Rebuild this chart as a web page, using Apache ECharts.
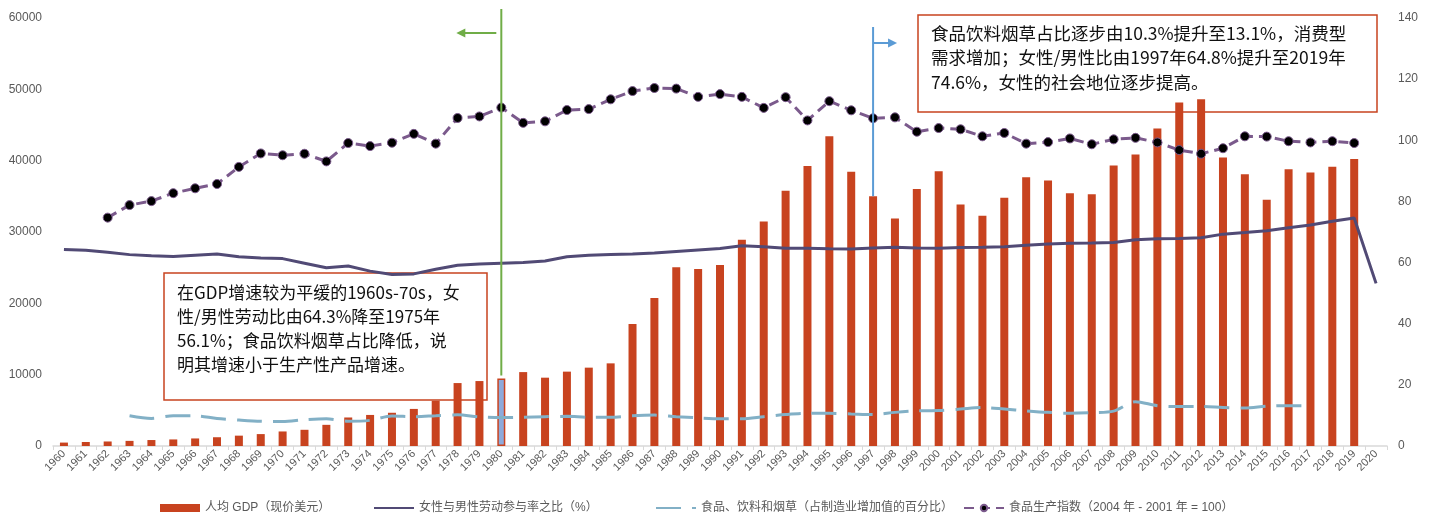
<!doctype html>
<html>
<head>
<meta charset="utf-8">
<title>Japan GDP</title>
<style>
  html, body { margin: 0; padding: 0; background: #fff; }
  #main { width: 1434px; height: 515px; }
</style>
</head>
<body>
<div id="main"></div>
<script src="https://cdn.jsdelivr.net/npm/echarts@6/dist/echarts.min.js"></script>
<script>
var years = ['1960','1961','1962','1963','1964','1965','1966','1967','1968','1969',
  '1970','1971','1972','1973','1974','1975','1976','1977','1978','1979',
  '1980','1981','1982','1983','1984','1985','1986','1987','1988','1989',
  '1990','1991','1992','1993','1994','1995','1996','1997','1998','1999',
  '2000','2001','2002','2003','2004','2005','2006','2007','2008','2009',
  '2010','2011','2012','2013','2014','2015','2016','2017','2018','2019','2020'];

// 人均 GDP（现价美元）
var gdp = [480,564,634,718,836,920,1059,1229,1451,1669,
  2038,2272,2967,3998,4354,4659,5198,6336,8822,9105,
  9463,10361,9578,10425,10985,11585,17112,20745,25052,24813,
  25372,28925,31464,35766,39269,43440,38437,35022,31903,36027,
  38532,33847,32289,34808,37689,37218,35434,35275,39339,40855,
  44508,48168,48604,40454,38109,34525,38794,38332,39159,40247,null];

// 女性与男性劳动参与率之比（%）
var laborRatio = [64.3,64.0,63.4,62.6,62.2,62.0,62.4,62.8,61.9,61.5,
  61.3,59.8,58.3,58.9,57.2,56.1,56.3,57.8,59.1,59.5,
  59.8,60.0,60.5,61.9,62.4,62.6,62.8,63.1,63.6,64.1,
  64.6,65.5,65.2,64.7,64.7,64.5,64.4,64.8,65.0,64.8,
  64.7,64.9,65.0,65.2,65.7,66.1,66.3,66.4,66.6,67.5,
  67.8,67.9,68.1,69.3,69.8,70.4,71.4,72.3,73.5,74.6,
  53.2];

// 食品、饮料和烟草（占制造业增加值的百分比）
var foodShare = [null,null,null,9.9,9.0,9.9,9.9,9.0,8.5,8.1,
  8.0,8.6,8.9,8.1,8.4,9.8,9.6,9.9,10.2,9.5,
  9.3,9.4,9.6,9.7,9.4,9.4,9.9,10.1,9.6,9.2,
  8.9,8.9,9.6,10.3,10.7,10.7,10.5,10.3,11.0,11.5,
  11.6,12.1,12.6,12.1,11.5,11.0,10.7,10.9,11.4,14.5,
  13.2,12.9,12.9,12.6,12.4,13.0,13.2,13.1,null,null,null];

// 食品生产指数（2004 年 - 2001 年 = 100）
var foodIndex = [null,null,74.7,78.8,80.1,82.7,84.3,85.7,91.3,95.7,
  95.1,95.6,93.1,99.1,98.1,99.2,102.1,98.9,107.3,107.8,
  110.7,105.7,106.2,109.9,110.2,113.4,116.1,117.1,116.9,114.2,
  115.1,114.2,110.6,114.1,106.5,112.8,109.8,107.2,107.5,102.8,
  104.0,103.6,101.3,102.4,98.9,99.4,100.6,98.7,100.3,100.8,
  99.3,96.8,95.6,97.4,101.3,101.2,99.7,99.3,99.7,99.1,null];

var highlightYear = '1980';
var markYear = '1997';

var names = ['人均 GDP（现价美元）', '女性与男性劳动参与率之比（%）',
  '食品、饮料和烟草（占制造业增加值的百分比）', '食品生产指数（2004 年 - 2001 年 = 100）'];

var noteLeft = ['在GDP增速较为平缓的1960s-70s，女',
  '性/男性劳动比由64.3%降至1975年',
  '56.1%；食品饮料烟草占比降低，说',
  '明其增速小于生产性产品增速。'];
var noteRight = ['食品饮料烟草占比逐步由10.3%提升至13.1%，消费型',
  '需求增加；女性/男性比由1997年64.8%提升至2019年',
  '74.6%，女性的社会地位逐步提高。'];

var RED = '#c8431f';
var FONT = '"Liberation Sans", "Noto Sans CJK SC", sans-serif';
var NOTE_FONT = '"Noto Sans CJK SC", sans-serif';

var chart = echarts.init(document.getElementById('main'));

var gdpData = gdp.map(function (v, i) {
  if (years[i] === highlightYear) {
    return { value: v, itemStyle: { color: '#8eaadb', borderColor: RED, borderWidth: 1.5 } };
  }
  return v;
});

var noSymbol = { color: 'rgba(0,0,0,0)', borderWidth: 0 };
var legendLefts = [155, 368, 650, 958];
var legendItems = [
  { name: names[0], icon: 'rect' },
  { name: names[1], itemStyle: noSymbol },
  { name: names[2], itemStyle: noSymbol },
  { name: names[3] }
];

chart.setOption({
  animation: false,
  textStyle: { fontFamily: FONT },
  grid: { left: 53, right: 47, top: 18, bottom: 69 },
  legend: legendItems.map(function (item, i) {
    return {
      left: legendLefts[i],
      top: 497,
      itemWidth: 40,
      itemHeight: 8,
      itemGap: 4,
      textStyle: { color: '#595959', fontSize: 12, fontFamily: FONT },
      data: [item]
    };
  }),
  xAxis: {
    type: 'category',
    data: years,
    boundaryGap: true,
    axisLine: { lineStyle: { color: '#d9d9d9', width: 1.5 } },
    axisTick: { show: true, length: 4, lineStyle: { color: '#d9d9d9' } },
    axisLabel: { interval: 0, rotate: 45, fontSize: 11, color: '#595959', margin: 6 }
  },
  yAxis: [{
    type: 'value', min: 0, max: 60000, interval: 10000,
    splitLine: { show: false },
    axisLine: { show: false },
    axisLabel: { color: '#595959', fontSize: 12, margin: 11,
      formatter: function (v) { return String(v); } }
  }, {
    type: 'value', min: 0, max: 140, interval: 20, position: 'right',
    splitLine: { show: false },
    axisLine: { show: false },
    axisLabel: { color: '#595959', fontSize: 12, margin: 11 }
  }],
  series: [{
    name: names[0],
    type: 'bar',
    barWidth: 8,
    itemStyle: { color: RED },
    data: gdpData
  }, {
    name: names[1],
    type: 'line',
    yAxisIndex: 1,
    symbol: 'none',
    lineStyle: { color: '#514a75', width: 3 },
    itemStyle: { color: '#514a75' },
    data: laborRatio
  }, {
    name: names[2],
    type: 'line',
    yAxisIndex: 1,
    smooth: 0.3,
    symbol: 'none',
    lineStyle: { color: '#82b0c6', width: 3, type: [25, 11] },
    itemStyle: { color: '#82b0c6' },
    data: foodShare
  }, {
    name: names[3],
    type: 'line',
    yAxisIndex: 1,
    symbol: 'circle',
    symbolSize: 9,
    lineStyle: { color: '#7b5a8c', width: 3, type: [10, 6] },
    itemStyle: { color: '#000', borderColor: '#7b5a8c', borderWidth: 1 },
    data: foodIndex,
    z: 4
  }]
});

// annotations: boxes, guide lines and arrows
var xHi = chart.convertToPixel({ xAxisIndex: 0 }, highlightYear);
var yHi = chart.convertToPixel({ yAxisIndex: 0 }, gdp[years.indexOf(highlightYear)]);
var xMk = chart.convertToPixel({ xAxisIndex: 0 }, markYear);
var yMk = chart.convertToPixel({ yAxisIndex: 0 }, gdp[years.indexOf(markYear)]);

var GREEN = '#70ad47', BLUE = '#5b9bd5';

chart.setOption({
  graphic: [
    { type: 'rect', z: 0, shape: { x: 164, y: 273, width: 323, height: 127 },
      style: { fill: '#fff', stroke: RED, lineWidth: 1.5 } },
    { type: 'text', z: 0, left: 177, top: 281,
      style: { text: noteLeft.join('\n'), fill: '#111', font: '17px ' + NOTE_FONT, lineHeight: 24 } },
    { type: 'rect', z: 0, shape: { x: 918, y: 15, width: 459, height: 97 },
      style: { fill: '#fff', stroke: RED, lineWidth: 1.5 } },
    { type: 'text', z: 0, left: 931, top: 21,
      style: { text: noteRight.join('\n'), fill: '#111', font: '17.5px ' + NOTE_FONT, lineHeight: 24.5 } },

    { type: 'line', z: 10, shape: { x1: xHi, y1: 9, x2: xHi, y2: yHi - 3 },
      style: { stroke: GREEN, lineWidth: 2 } },
    { type: 'line', z: 10, shape: { x1: xHi - 5, y1: 33, x2: xHi - 37, y2: 33 },
      style: { stroke: GREEN, lineWidth: 2 } },
    { type: 'polygon', z: 10, shape: { points: [[xHi - 45, 33], [xHi - 36, 28.5], [xHi - 36, 37.5]] },
      style: { fill: GREEN } },

    { type: 'line', z: 10, shape: { x1: xMk, y1: 27, x2: xMk, y2: yMk },
      style: { stroke: BLUE, lineWidth: 2 } },
    { type: 'line', z: 10, shape: { x1: xMk, y1: 43, x2: xMk + 16, y2: 43 },
      style: { stroke: BLUE, lineWidth: 2 } },
    { type: 'polygon', z: 10, shape: { points: [[xMk + 24, 43], [xMk + 15, 38.5], [xMk + 15, 47.5]] },
      style: { fill: BLUE } }
  ]
});

window.onresize = chart.resize;
</script>
</body>
</html>
